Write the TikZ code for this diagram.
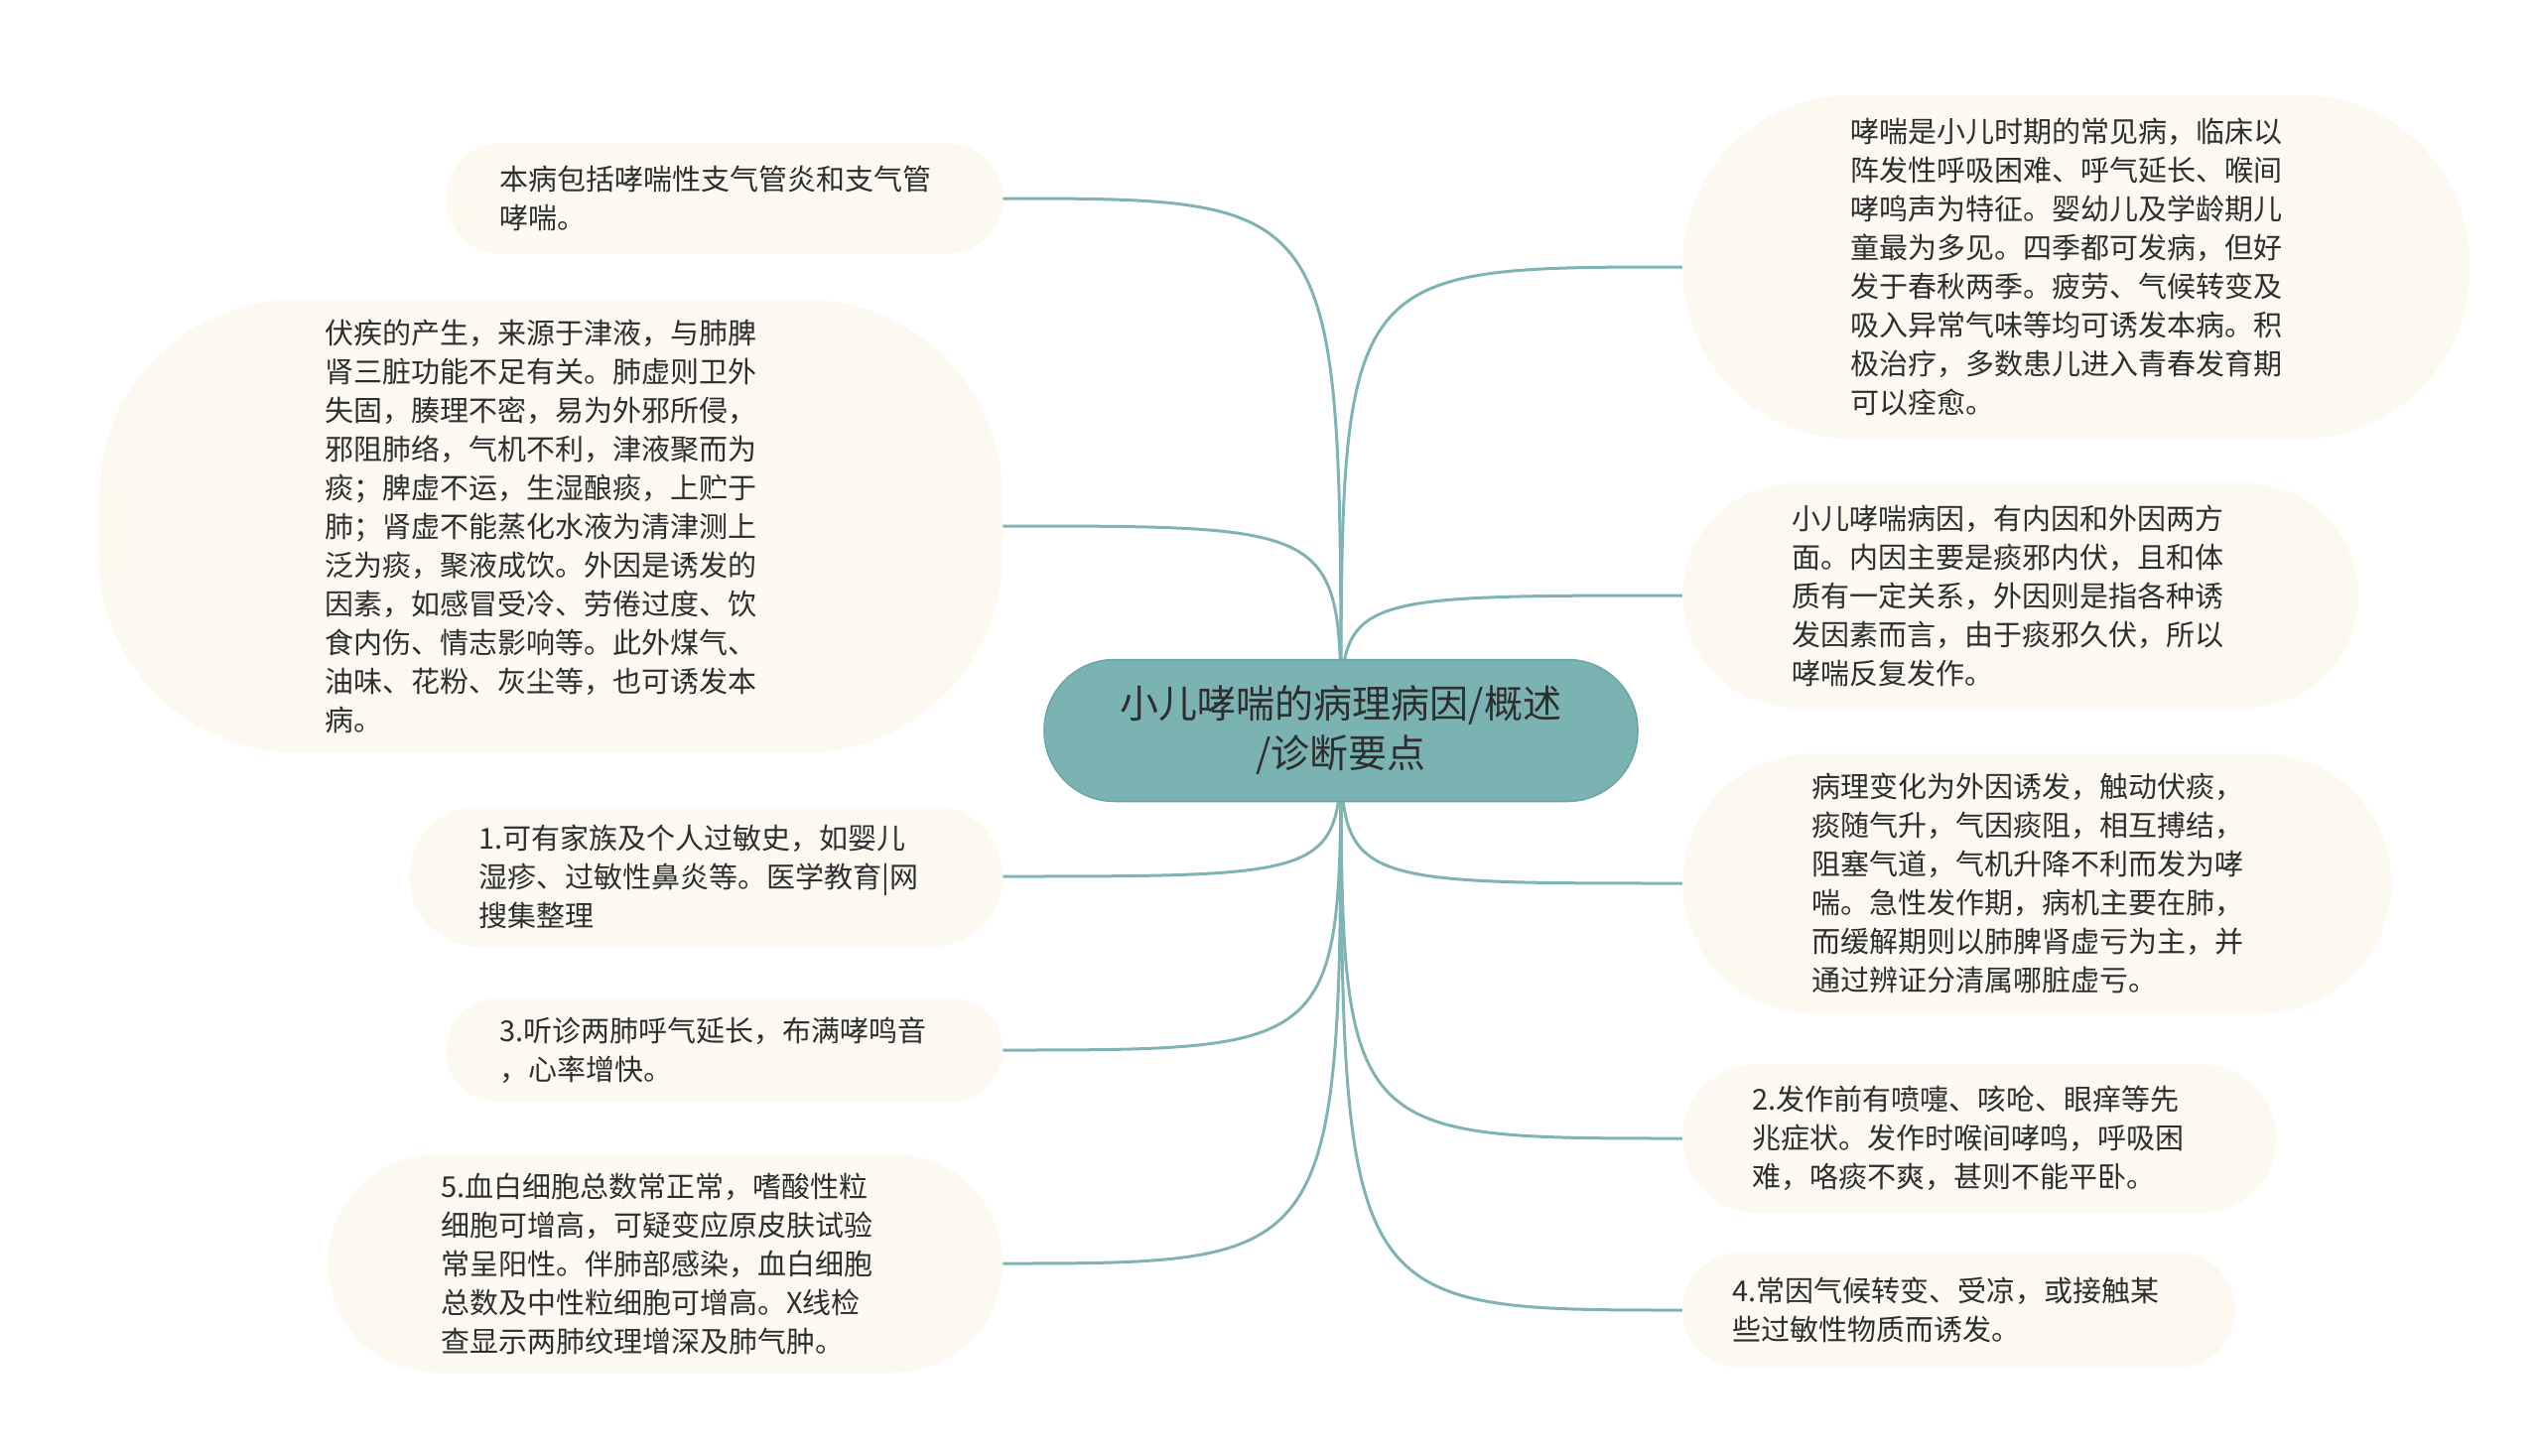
\documentclass[tikz,border=0pt]{standalone}
\usepackage{fontspec}
\setmainfont{Noto Sans CJK SC}
\pgfdeclarelayer{background}
\pgfsetlayers{background,main}
\definecolor{rootfill}{HTML}{7BB2B2}
\definecolor{rootline}{HTML}{6AA4A4}
\definecolor{branchline}{HTML}{80B4B4}
\definecolor{leaffill}{HTML}{FCFAF0}
\definecolor{textdark}{HTML}{2E2E2E}

\begin{document}
\begin{tikzpicture}[x=1pt, y=-1pt,
	root/.style={fill=rootfill, draw=rootline, line width=1.5pt, rounded corners=71pt, minimum width=598pt, minimum height=143pt, align=center, text=textdark, font=\fontsize{39}{50}\selectfont},
	leaf/.style={fill=leaffill, anchor=west, align=left, text=textdark, font=\fontsize{29}{39}\selectfont},
	branch/.style={draw=branchline, line width=3pt}]
	\useasboundingbox (0,0) rectangle (2560,1467);

	\node[root] (root) at (1351,736) {小儿哮喘的病理病因/概述\\/诊断要点};

	% left side
	\node[leaf, rounded corners=55pt, minimum height=111pt, inner xsep=54pt, text width=453pt] (intro) at (449,200) {本病包括哮喘性支气管炎和支气管\\哮喘。};
	\node[leaf, rounded corners=200pt, minimum height=457pt, inner xsep=228pt, text width=455pt] (cause) at (99,530) {伏疾的产生，来源于津液，与肺脾\\肾三脏功能不足有关。肺虚则卫外\\失固，腠理不密，易为外邪所侵，\\邪阻肺络，气机不利，津液聚而为\\痰；脾虚不运，生湿酿痰，上贮于\\肺；肾虚不能蒸化水液为清津测上\\泛为痰，聚液成饮。外因是诱发的\\因素，如感冒受冷、劳倦过度、饮\\食内伤、情志影响等。此外煤气、\\油味、花粉、灰尘等，也可诱发本\\病。};
	\node[leaf, rounded corners=70pt, minimum height=141pt, inner xsep=70pt, text width=458pt] (hist) at (412,883) {1.可有家族及个人过敏史，如婴儿\\湿疹、过敏性鼻炎等。医学教育|网\\搜集整理};
	\node[leaf, rounded corners=52pt, minimum height=104pt, inner xsep=54pt, text width=453pt] (ausc) at (449,1058) {3.听诊两肺呼气延长，布满哮鸣音\\，心率增快。};
	\node[leaf, rounded corners=110pt, minimum height=220pt, inner xsep=114pt, text width=452pt] (blood) at (330,1273) {5.血白细胞总数常正常，嗜酸性粒\\细胞可增高，可疑变应原皮肤试验\\常呈阳性。伴肺部感染，血白细胞\\总数及中性粒细胞可增高。X线检\\查显示两肺纹理增深及肺气肿。};

	% right side
	\node[leaf, rounded corners=170pt, minimum height=346pt, inner xsep=169pt, text width=455pt] (summ) at (1695,269) {哮喘是小儿时期的常见病，临床以\\阵发性呼吸困难、呼气延长、喉间\\哮鸣声为特征。婴幼儿及学龄期儿\\童最为多见。四季都可发病，但好\\发于春秋两季。疲劳、气候转变及\\吸入异常气味等均可诱发本病。积\\极治疗，多数患儿进入青春发育期\\可以痊愈。};
	\node[leaf, rounded corners=113pt, minimum height=226pt, inner xsep=110pt, text width=461pt] (inner) at (1695,600) {小儿哮喘病因，有内因和外因两方\\面。内因主要是痰邪内伏，且和体\\质有一定关系，外因则是指各种诱\\发因素而言，由于痰邪久伏，所以\\哮喘反复发作。};
	\node[leaf, rounded corners=130pt, minimum height=261pt, inner xsep=130pt, text width=454pt] (patho) at (1695,890) {病理变化为外因诱发，触动伏痰，\\痰随气升，气因痰阻，相互搏结，\\阻塞气道，气机升降不利而发为哮\\喘。急性发作期，病机主要在肺，\\而缓解期则以肺脾肾虚亏为主，并\\通过辨证分清属哪脏虚亏。};
	\node[leaf, rounded corners=74pt, minimum height=149pt, inner xsep=70pt, text width=458pt] (onset) at (1695,1147) {2.发作前有喷嚏、咳呛、眼痒等先\\兆症状。发作时喉间哮鸣，呼吸困\\难，咯痰不爽，甚则不能平卧。};
	\node[leaf, rounded corners=58pt, minimum height=116pt, inner xsep=50pt, text width=457pt] (trig) at (1695,1320) {4.常因气候转变、受凉，或接触某\\些过敏性物质而诱发。};

	\begin{pgfonlayer}{background}
	\foreach \n/\a in {intro/east, cause/east, hist/east, ausc/east, blood/east, summ/west, inner/west, patho/west, onset/west, trig/west}
		\draw[branch] (root.center) .. controls (root.center |- \n.\a) .. (\n.\a);
	\end{pgfonlayer}
\end{tikzpicture}
\end{document}
